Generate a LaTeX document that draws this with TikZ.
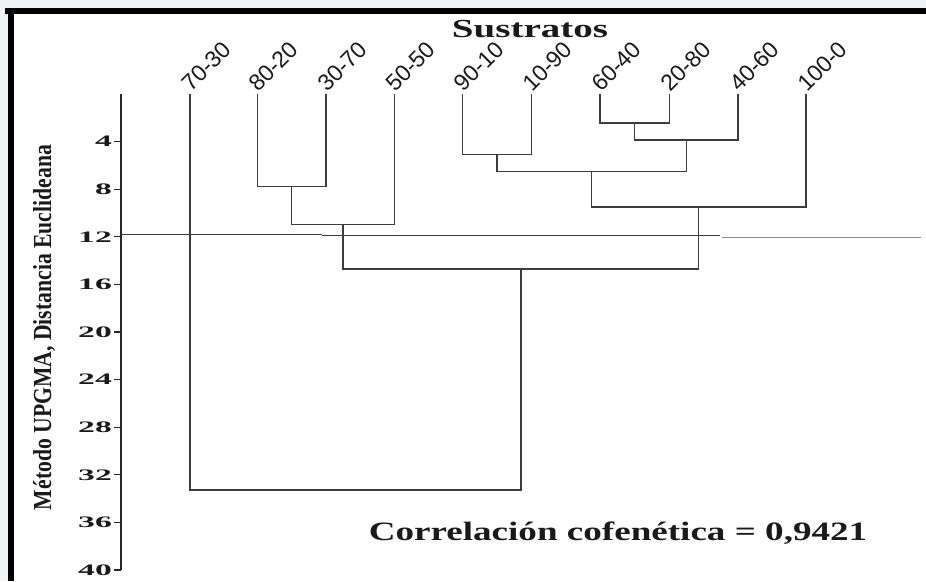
\documentclass[tikz,border=0pt]{standalone}
\usepackage{fontspec}
\setmainfont{Liberation Serif}
\setsansfont{Liberation Sans}
\usepackage{graphicx}
\definecolor{bgc}{HTML}{EEF3F6}
\definecolor{treec}{HTML}{3C3C3C}
\definecolor{refl}{HTML}{8A8A8A}
\definecolor{txtc}{HTML}{1A1A1A}
\begin{document}
\begin{tikzpicture}[x=1pt,y=1pt,
  tree/.style={draw=treec, line width=1.3pt, line join=miter},
  ax/.style={draw=black!85, line width=1.2pt},
  ticklbl/.style={anchor=east, inner sep=0pt, text=txtc},
  leaflbl/.style={font=\sffamily\fontsize{23}{23}\selectfont, text=txtc, inner sep=0pt, rotate=45, anchor=base west},
]
\useasboundingbox (0,0) rectangle (926,-581);
% background and frame
\fill[bgc] (0,0) rectangle (926,-581);
\fill[white] (14,-14) rectangle (926,-581);
\fill[black] (5,-8) rectangle (926,-14);
\fill[black] (8,-8) rectangle (14,-581);

% axis
\coordinate (axtop) at (121,-94);
\coordinate (axbot) at (121,-570);
\draw[ax] (axtop) -- (axbot);
\foreach \v in {4,8,...,40} {
  \coordinate (t\v) at (121,{-(94+11.9*\v)});
  \coordinate (te\v) at (114,{-(94+11.9*\v)});
  \draw[ax] (t\v) -- (te\v);
  \node[ticklbl] (tl\v) at (112,{-(94+11.9*\v)}) {\scalebox{2.1}[1]{\fontsize{16}{16}\selectfont\bfseries \v}};
}

% axis title
\node[rotate=90, anchor=base, inner sep=0pt, text=txtc] (ytitle) at (51,-327.5)
  {\scalebox{0.834}[1]{\fontsize{26}{26}\selectfont\bfseries Método UPGMA, Distancia Euclideana}};

% title
\node[anchor=base, inner sep=0pt, text=txtc] (title) at (530,-37)
  {\scalebox{1.5}[1]{\fontsize{26}{26}\selectfont\bfseries Sustratos}};

% correlation
\node[anchor=base, inner sep=0pt, text=txtc] (corr) at (618,-540)
  {\scalebox{1.4}[1]{\fontsize{26.5}{26.5}\selectfont\bfseries Correlación cofenética = 0,9421}};

% leaves
\foreach \i/\x/\t in {1/190/70-30, 2/257.3/80-20, 3/326/30-70, 4/394.3/50-50, 5/462.5/90-10, 6/531.3/10-90, 7/600/60-40, 8/669.5/20-80, 9/738/40-60, 10/806/100-0} {
  \coordinate (l\i) at (\x,-93.5);
  \node[leaflbl] (lbl\i) at (\x+1,-93) {\t};
}

% merge points
\coordinate (mA) at (291.65,-186.7);
\coordinate (mB) at (342.98,-224.3);
\coordinate (mC) at (496.9,-154.3);
\coordinate (mD) at (634.75,-123);
\coordinate (mE) at (686.4,-140);
\coordinate (mF) at (591.65,-171.5);
\coordinate (mG) at (698.8,-207);
\coordinate (mH) at (520.9,-269);
\coordinate (mI) at (355.45,-490);

\draw[tree] (l2) -- (l2|-mA) -- (l3|-mA) -- (l3);
\draw[tree] (mA) -- (mA|-mB) -- (l4|-mB) -- (l4);
\draw[tree] (l5) -- (l5|-mC) -- (l6|-mC) -- (l6);
\draw[tree] (l7) -- (l7|-mD) -- (l8|-mD) -- (l8);
\draw[tree] (mD) -- (mD|-mE) -- (l9|-mE) -- (l9);
\draw[tree] (mC) -- (mC|-mF) -- (mE|-mF) -- (mE);
\draw[tree] (mF) -- (mF|-mG) -- (l10|-mG) -- (l10);
\draw[tree] (mB) -- (mB|-mH) -- (mG|-mH) -- (mG);
\draw[tree] (l1) -- (l1|-mI) -- (mH|-mI) -- (mH);

% reference line
\coordinate (r0) at (121,-234);
\coordinate (r1) at (322,-234);
\coordinate (r2) at (322,-235.5);
\coordinate (r3) at (720,-235.5);
\coordinate (r4) at (722,-237.3);
\coordinate (r5) at (921,-237.3);
\draw[draw=treec, line width=1pt] (r0) -- (r1);
\draw[draw=treec, line width=1pt] (r2) -- (r3);
\draw[draw=refl, line width=1.3pt] (r4) -- (r5);
\end{tikzpicture}
\end{document}
